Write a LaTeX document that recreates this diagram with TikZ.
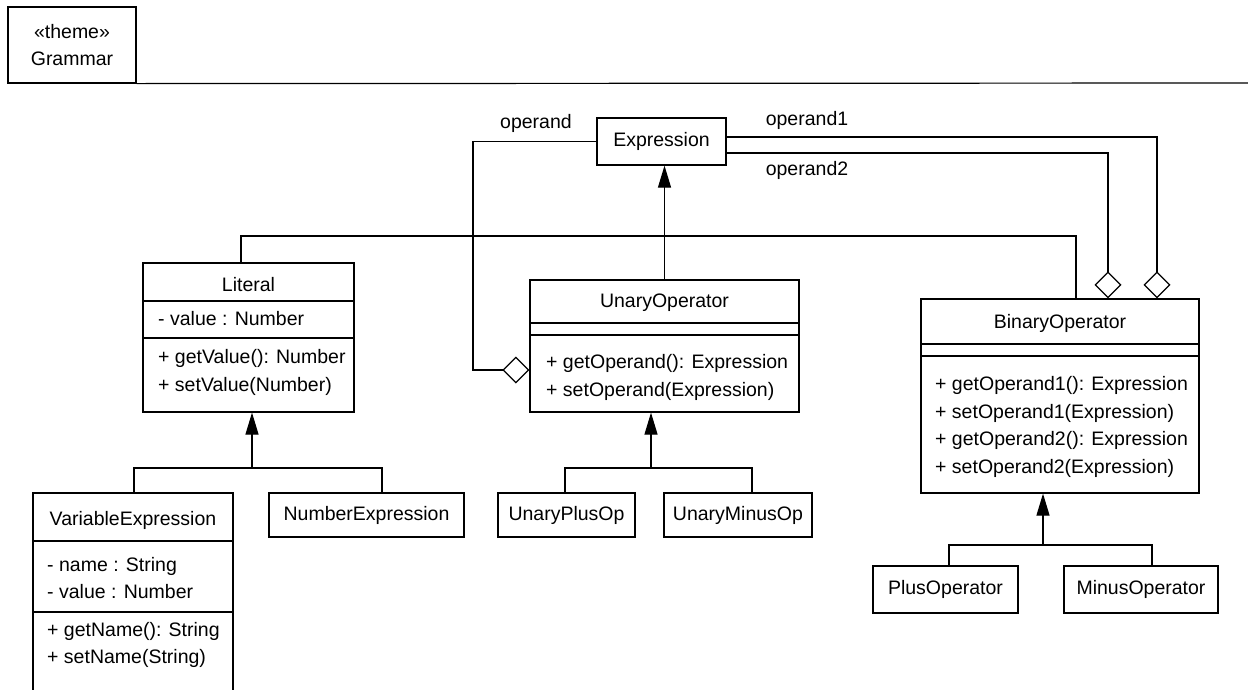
\documentclass[tikz,border=0pt]{standalone}
\usepackage{fontspec}
\setmainfont{Liberation Sans}
\usetikzlibrary{arrows.meta,positioning}
\tikzset{
  uml/.style={font=\fontsize{19.5}{27.5}\selectfont},
  cls/.style={draw,line width=1.2pt,inner sep=0pt,fill=white},
  ttl/.style={uml,inner sep=0pt},
  mem/.style={uml,inner sep=0pt,anchor=west,align=left},
  lab/.style={uml,inner sep=0pt},
  lnk/.style={line width=1.2pt},
  gen/.style={-{Triangle[length=22pt,width=13pt]},line width=1.2pt},
  agg/.style={-{Diamond[open,length=27pt,width=27pt]},line width=1.2pt},
}

\begin{document}
\begin{tikzpicture}[x=1pt,y=-1pt]
\useasboundingbox (0,0) rectangle (1248,689);
\clip (0,0) rectangle (1248,689);
% frame
\node[cls,minimum width=128pt,minimum height=76pt,align=center,uml] (theme) at (72,45) {«theme»\\Grammar};
\coordinate (fr) at (1248,83);
\draw[lnk] (theme.south east) -- (fr);
% classes
\node[cls,minimum width=129pt,minimum height=47pt,uml] (expr) at (661.5,141.5) {Expression};

\node[cls,minimum width=211pt,minimum height=149pt] (lit) at (248.5,337.5) {};
\node[ttl] (litname) at (248.5,285) {Literal};
\draw[lnk] (lit.west |- 0,301) -- (lit.east |- 0,301);
\draw[lnk] (lit.west |- 0,338) -- (lit.east |- 0,338);
\node[mem] (litattr) at (158,319) {- value : Number};
\node[mem] (litops) at (158,372.5) {+ getValue(): Number\\+ setValue(Number)};

\node[cls,minimum width=269pt,minimum height=132pt] (unop) at (664.5,346) {};
\node[ttl] (unopname) at (664.5,303) {UnaryOperator};
\draw[lnk] (unop.west |- 0,323) -- (unop.east |- 0,323);
\draw[lnk] (unop.west |- 0,335) -- (unop.east |- 0,335);
\node[mem] (unopops) at (546,377.5) {+ getOperand(): Expression\\+ setOperand(Expression)};

\node[cls,minimum width=278pt,minimum height=194pt] (binop) at (1060,396) {};
\node[ttl] (binopname) at (1060,323) {BinaryOperator};
\draw[lnk] (binop.west |- 0,344) -- (binop.east |- 0,344);
\draw[lnk] (binop.west |- 0,356) -- (binop.east |- 0,356);
\node[mem] (binopops) at (935,427) {+ getOperand1(): Expression\\+ setOperand1(Expression)\\+ getOperand2(): Expression\\+ setOperand2(Expression)};

\node[cls,minimum width=200pt,minimum height=227pt] (varx) at (133,606.5) {};
\node[ttl] (varxname) at (133,520) {VariableExpression};
\draw[lnk] (varx.west |- 0,541) -- (varx.east |- 0,541);
\draw[lnk] (varx.west |- 0,612) -- (varx.east |- 0,612);
\node[mem] (varxattr) at (47,578) {- name : String\\- value : Number};
\node[mem] (varxops) at (47,645) {+ getName(): String\\+ setName(String)};

\node[cls,minimum width=195pt,minimum height=44pt,uml] (numx) at (366.5,515) {NumberExpression};
\node[cls,minimum width=137pt,minimum height=44pt,uml] (uplus) at (566.5,515) {UnaryPlusOp};
\node[cls,minimum width=148pt,minimum height=44pt,uml] (uminus) at (738,515) {UnaryMinusOp};
\node[cls,minimum width=145pt,minimum height=47pt,uml] (plus) at (945.5,589.5) {PlusOperator};
\node[cls,minimum width=154pt,minimum height=47pt,uml] (minus) at (1141,589.5) {MinusOperator};

% generalizations
\draw[gen] (unop.north) -- (unop.north |- expr.south);
\coordinate (jl) at (241,236);
\coordinate (jb) at (1076,236);
\draw[lnk] (lit.north -| jl) -- (jl) -- (jb) -- (binop.north -| jb);

\coordinate (lj) at (252,468);
\coordinate (lv) at (134,468);
\coordinate (ln) at (382,468);
\draw[gen] (lj) -- (lj |- lit.south);
\draw[lnk] (varx.north -| lv) -- (lv) -- (ln) -- (numx.north -| ln);

\coordinate (uj) at (651,468);
\coordinate (up) at (565,468);
\coordinate (um) at (752,468);
\draw[gen] (uj) -- (uj |- unop.south);
\draw[lnk] (uplus.north -| up) -- (up) -- (um) -- (uminus.north -| um);

\coordinate (bj) at (1043,545);
\coordinate (bp) at (949,545);
\coordinate (bm) at (1152,545);
\draw[gen] (bj) -- (bj |- binop.south);
\draw[lnk] (plus.north -| bp) -- (bp) -- (bm) -- (minus.north -| bm);

% aggregations
\coordinate (a0) at (473,141.5);
\coordinate (a1) at (473,370);
\draw[agg] (expr.west) -- (a0) -- (a1) -- (unop.west |- a1);
\coordinate (b1) at (1157,137);
\draw[agg] (expr.east |- b1) -- (b1) -- (binop.north -| b1);
\coordinate (b2) at (1108,153);
\draw[agg] (expr.east |- b2) -- (b2) -- (binop.north -| b2);

\node[lab] (opl) at (536,123) {operand};
\node[lab] (op1l) at (807,120) {operand1};
\node[lab] (op2l) at (807,170) {operand2};
\end{tikzpicture}
\end{document}
